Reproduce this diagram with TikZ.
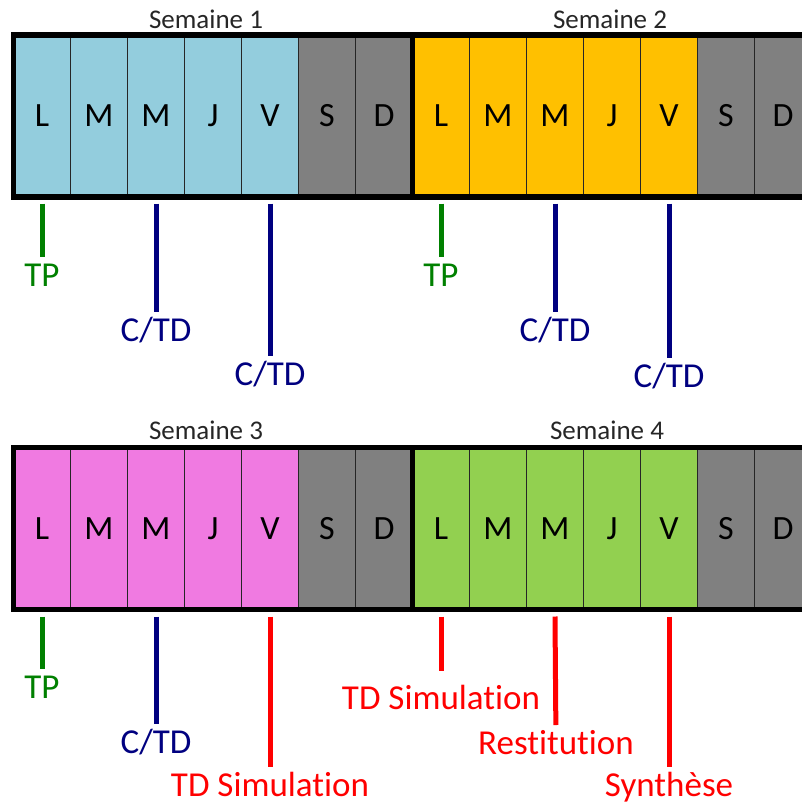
\documentclass[tikz,border=0pt]{standalone}
\usepackage{fontspec}
\setmainfont{Carlito}[Ligatures={NoCommon,NoContextual,NoRare}, RawFeature=-calt]
\usepackage{tikz}

\definecolor{sem1}{RGB}{147,205,221}
\definecolor{sem2}{RGB}{255,192,0}
\definecolor{sem3}{RGB}{240,122,225}
\definecolor{sem4}{RGB}{146,208,80}
\definecolor{weekend}{RGB}{128,128,128}
\definecolor{tpgreen}{RGB}{0,128,0}
\definecolor{ctdblue}{RGB}{0,0,128}
\definecolor{simred}{RGB}{255,0,0}

\begin{document}
\begin{tikzpicture}[x=0.5pt, y=-0.5pt,
    day/.style={draw=black!85, line width=0.6pt, minimum width=28.5pt, minimum height=81pt,
        inner sep=0pt, outer sep=0pt, font=\fontsize{17}{20}\selectfont},
    weekbox/.style={draw=black, line width=2.75pt},
    weeklabel/.style={anchor=base, text=black!85, font=\fontsize{13.5}{16}\selectfont},
    lab/.style={anchor=north, inner sep=1pt, text height=11pt, font=\fontsize{17.5}{20}\selectfont},
    tpline/.style={tpgreen, line width=2.5pt, shorten >=2.5pt},
    ctdline/.style={ctdblue, line width=2.5pt, shorten >=2.5pt},
    simline/.style={simred, line width=2.5pt, shorten >=2.5pt}
]
    \clip (0,0) rectangle (802,803);

    \node[day, fill=sem1] (w1L) at (42,116) {L};
    \node[day, fill=sem1] (w1Ma) at (99,116) {M};
    \node[day, fill=sem1] (w1Me) at (156,116) {M};
    \node[day, fill=sem1] (w1J) at (213,116) {J};
    \node[day, fill=sem1] (w1V) at (270,116) {V};
    \node[day, fill=weekend] (w1S) at (327,116) {S};
    \node[day, fill=weekend] (w1D) at (384,116) {D};

    \node[day, fill=sem2] (w2L) at (441,116) {L};
    \node[day, fill=sem2] (w2Ma) at (498,116) {M};
    \node[day, fill=sem2] (w2Me) at (555,116) {M};
    \node[day, fill=sem2] (w2J) at (612,116) {J};
    \node[day, fill=sem2] (w2V) at (669,116) {V};
    \node[day, fill=weekend] (w2S) at (726,116) {S};
    \node[day, fill=weekend] (w2D) at (783,116) {D};

    \node[day, fill=sem3] (w3L) at (42,528.5) {L};
    \node[day, fill=sem3] (w3Ma) at (99,528.5) {M};
    \node[day, fill=sem3] (w3Me) at (156,528.5) {M};
    \node[day, fill=sem3] (w3J) at (213,528.5) {J};
    \node[day, fill=sem3] (w3V) at (270,528.5) {V};
    \node[day, fill=weekend] (w3S) at (327,528.5) {S};
    \node[day, fill=weekend] (w3D) at (384,528.5) {D};

    \node[day, fill=sem4] (w4L) at (441,528.5) {L};
    \node[day, fill=sem4] (w4Ma) at (498,528.5) {M};
    \node[day, fill=sem4] (w4Me) at (555,528.5) {M};
    \node[day, fill=sem4] (w4J) at (612,528.5) {J};
    \node[day, fill=sem4] (w4V) at (669,528.5) {V};
    \node[day, fill=weekend] (w4S) at (726,528.5) {S};
    \node[day, fill=weekend] (w4D) at (783,528.5) {D};

    \draw[weekbox] (w1L.north west) rectangle (w1D.south east);
    \draw[weekbox] (w2L.north west) rectangle (w2D.south east);
    \draw[weekbox] (w3L.north west) rectangle (w3D.south east);
    \draw[weekbox] (w4L.north west) rectangle (w4D.south east);

    \node[weeklabel] (sem1) at (206,28) {Semaine 1};
    \node[weeklabel] (sem2) at (610,28) {Semaine 2};
    \node[weeklabel] (sem3) at (206,439.5) {Semaine 3};
    \node[weeklabel] (sem4) at (607,439.5) {Semaine 4};

    \coordinate (a1) at (42,203.5);
    \coordinate (a2) at (156,203.5);
    \coordinate (a3) at (270,203.5);
    \coordinate (a4) at (441,203.5);
    \coordinate (a5) at (555,203.5);
    \coordinate (a6) at (669,203.5);
    \coordinate (b1) at (42,616.5);
    \coordinate (b2) at (156,616.5);
    \coordinate (b3) at (270,616.5);
    \coordinate (b4) at (441,616.5);
    \coordinate (b5) at (555,616.5);
    \coordinate (b6) at (669,616.5);

    \node[lab, text=tpgreen] (tp1) at (42,262) {TP};
    \node[lab, text=ctdblue] (ctd1) at (156,317) {C/TD};
    \node[lab, text=ctdblue] (ctd2) at (270,361) {C/TD};
    \node[lab, text=tpgreen] (tp2) at (441,262) {TP};
    \node[lab, text=ctdblue] (ctd3) at (555,317) {C/TD};
    \node[lab, text=ctdblue] (ctd4) at (669,363) {C/TD};
    \node[lab, text=tpgreen] (tp3) at (42,674) {TP};
    \node[lab, text=ctdblue] (ctd5) at (156,729) {C/TD};
    \node[lab, text=simred] (sim1) at (270,772) {TD Simulation};
    \node[lab, text=simred] (sim2) at (441,685) {TD Simulation};
    \node[lab, text=simred] (rest) at (556,730) {Restitution};
    \node[lab, text=simred] (synt) at (669,772) {Synthèse};

    \draw[tpline] (a1) -- (tp1);
    \draw[ctdline] (a2) -- (ctd1);
    \draw[ctdline] (a3) -- (ctd2);
    \draw[tpline] (a4) -- (tp2);
    \draw[ctdline] (a5) -- (ctd3);
    \draw[ctdline] (a6) -- (ctd4);
    \draw[tpline] (b1) -- (tp3);
    \draw[ctdline] (b2) -- (ctd5);
    \draw[simline] (b3) -- (sim1);
    \draw[simline, shorten >=7pt] (b4) -- (sim2);
    \draw[simline] (b5) -- (rest);
    \draw[simline] (b6) -- (synt);
\end{tikzpicture}
\end{document}
